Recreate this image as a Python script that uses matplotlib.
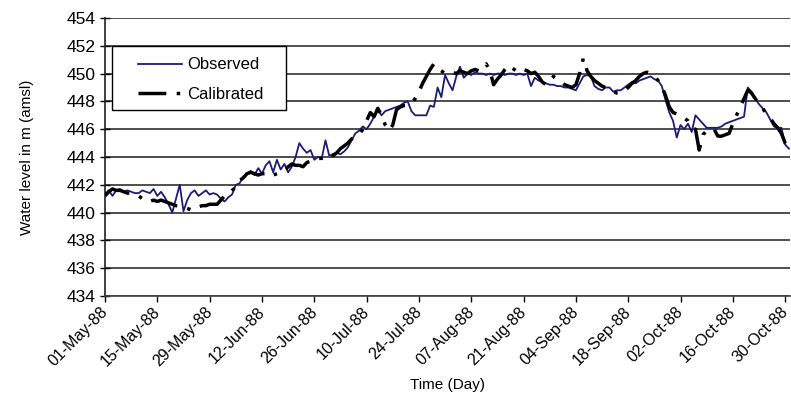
import matplotlib
matplotlib.use("Agg")
import matplotlib.pyplot as plt
import matplotlib.dates as mdates
import matplotlib.transforms as mtransforms
from matplotlib.patches import Rectangle
import pandas as pd

plt.rcParams['font.family'] = ['Liberation Sans', 'DejaVu Sans']

start_date = "1988-05-01"

# Daily water levels (m amsl), 01-May-88 to 31-Oct-88
observed = [
    441.3, 441.6, 441.2, 441.6, 441.7, 441.5, 441.6, 441.5, 441.4, 441.4,
    441.6, 441.5, 441.4, 441.7, 441.2, 441.5, 441.1, 440.6, 440.0, 441.0,
    442.0, 440.1, 440.9, 441.4, 441.6, 441.2, 441.4, 441.6, 441.3, 441.4,
    441.3, 441.0, 440.8, 441.1, 441.3, 442.0, 442.1, 442.6, 442.8, 443.0,
    442.7, 443.2, 442.8, 443.4, 443.7, 442.9, 443.8, 443.1, 443.5, 442.9,
    443.3, 444.0, 445.0, 444.6, 444.3, 444.5, 443.8, 444.0, 443.9, 445.2,
    444.1, 444.2, 444.3, 444.2, 444.4, 444.7, 445.2, 445.7, 445.9, 446.2,
    446.0, 446.4, 446.9, 447.4, 447.0, 447.3, 447.4, 447.5, 447.6, 447.7,
    447.9, 448.0, 447.3, 447.0, 447.0, 447.0, 447.0, 447.7, 447.6, 449.0,
    448.3, 449.9, 449.3, 448.8, 449.8, 450.5, 449.7, 450.0, 449.9, 450.1,
    450.0, 450.0, 449.9, 450.0, 449.9, 450.0, 450.0, 449.9, 450.0, 450.0,
    449.9, 450.0, 449.9, 450.0, 449.1, 449.7, 449.5, 449.4, 449.3, 449.2,
    449.2, 449.1, 449.1, 449.0, 449.0, 448.9, 448.8, 449.3, 449.8, 449.9,
    449.8, 449.1, 448.9, 448.8, 449.0, 449.0, 448.7, 448.8, 448.8, 449.0,
    449.2, 449.4, 449.3, 449.5, 449.6, 449.7, 449.8, 449.6, 449.5, 449.1,
    448.1, 447.2, 446.6, 445.4, 446.3, 446.0, 446.4, 445.8, 447.0, 446.7,
    446.4, 446.1, 446.1, 446.1, 446.1, 446.2, 446.4, 446.5, 446.6, 446.7,
    446.8, 446.9, 449.0, 448.7, 448.2, 447.8, 447.5, 447.2, 446.7, 446.2,
    446.1, 446.1, 444.9, 444.6,
]

calibrated = [
    441.2, 441.5, 441.7, 441.6, 441.6, 441.5, 441.4, 441.4, 441.3, 441.2,
    441.0, 440.8, 440.8, 440.9, 440.8, 440.9, 440.8, 440.7, 440.6, 440.5,
    440.5, 440.4, 440.3, 440.2, 440.2, 440.4, 440.5, 440.5, 440.6, 440.6,
    440.6, 440.9, 441.2, 441.3, 441.6, 441.8, 442.3, 442.5, 442.8, 442.9,
    442.8, 442.7, 442.8, 442.8, 442.6, 442.7, 442.8, 442.9, 443.0, 443.3,
    443.5, 443.4, 443.4, 443.3, 443.6, 443.7, 443.8, 443.9, 443.9, 444.0,
    444.2, 444.1, 444.3, 444.6, 444.8, 445.0, 445.3, 445.5, 445.6, 446.0,
    446.6, 447.2, 446.9, 447.5, 447.0, 446.3, 445.9, 446.3, 447.4, 447.6,
    447.7, 447.7, 447.9, 448.2, 448.7, 449.3, 449.8, 450.3, 450.7, 450.4,
    450.2, 450.0, 450.0, 450.1, 450.0, 450.2, 450.1, 450.0, 450.2, 450.3,
    450.2, 450.4, 450.7, 450.2, 449.2, 449.6, 449.9, 450.3, 450.6, 450.4,
    450.2, 450.1, 450.3, 450.2, 450.0, 450.1, 449.8, 449.4, 449.2, 449.4,
    449.8, 449.6, 449.4, 449.2, 449.1, 449.0, 449.2, 450.0, 451.1, 450.2,
    449.8, 449.5, 449.3, 449.1, 449.0, 448.8, 448.7, 448.6, 448.6, 448.8,
    449.0, 449.3, 449.5, 449.8, 450.0, 450.1, 450.0, 449.8, 449.5, 449.1,
    448.4, 447.6, 447.2, 447.1, 447.0, 446.8, 446.6, 446.1, 446.0, 444.5,
    445.6, 445.9, 446.0, 446.0, 445.5, 445.5, 445.6, 445.7, 446.4, 447.0,
    447.6, 448.2, 448.8, 448.6, 448.2, 447.8, 447.5, 447.1, 446.8, 446.4,
    446.1, 445.7, 445.0, 444.6,
]

y_ticks = [434, 436, 438, 440, 442, 444, 446, 448, 450, 452, 454]

dates = pd.date_range(start_date, periods=len(observed), freq="D")
tick_dates = pd.date_range(start_date, "1988-10-31", freq="14D")

fig = plt.figure(figsize=(7.91, 4.07), dpi=100)
ax = fig.add_axes([105 / 791, 1 - 296 / 407, 685 / 791, 278 / 407])

ax.plot(dates, observed, color="#1c1c78", lw=1.3, label="Observed", zorder=3)
ax.plot(dates, calibrated, color="black", lw=2.5, linestyle=(0, (8, 3, 1, 3)),
        label="Calibrated", zorder=4)

ax.set_ylim(434, 454)
ax.set_yticks(y_ticks)
ax.set_xlim(pd.Timestamp(start_date), pd.Timestamp(start_date) + pd.Timedelta(days=183.3))
ax.set_xticks(tick_dates)
ax.xaxis.set_major_formatter(mdates.DateFormatter("%d-%b-%y"))

ax.yaxis.grid(True, color="#303030", lw=1.2)
ax.set_axisbelow(True)
for side in ("top", "right"):
    ax.spines[side].set_visible(False)
ax.spines["left"].set_color("#202020")
ax.spines["bottom"].set_color("#404040")
ax.spines["left"].set_linewidth(1.2)
ax.spines["bottom"].set_linewidth(1.2)

ax.tick_params(axis="y", direction="inout", length=7, width=1, labelsize=12.5, pad=3)
ax.tick_params(axis="x", direction="out", length=4, width=1, labelsize=11.5, pad=2)
shift = mtransforms.ScaledTranslation(-5 / 100, 0, fig.dpi_scale_trans)
for lbl in ax.get_xticklabels():
    lbl.set_rotation(45)
    lbl.set_ha("right")
    lbl.set_va("top")
    lbl.set_rotation_mode("anchor")
    lbl.set_transform(lbl.get_transform() + shift)

ax.set_ylabel("Water level in m (amsl)", fontsize=11, labelpad=24)
ax.set_xlabel("Time (Day)", fontsize=11, labelpad=6)

# Legend box with white fill, drawn over the gridlines and series
ax.add_patch(Rectangle((0.0102, 0.669), 0.254, 0.230, transform=ax.transAxes,
                       facecolor="white", edgecolor="black", lw=1.0, zorder=5))
leg = ax.legend(loc="upper left", bbox_to_anchor=(0.048, 0.858), fontsize=12,
                frameon=False, handlelength=2.65, handletextpad=0.3,
                borderpad=0, labelspacing=0.85, borderaxespad=0)
leg.set_zorder(6)

fig.savefig("out.png", dpi=100)
